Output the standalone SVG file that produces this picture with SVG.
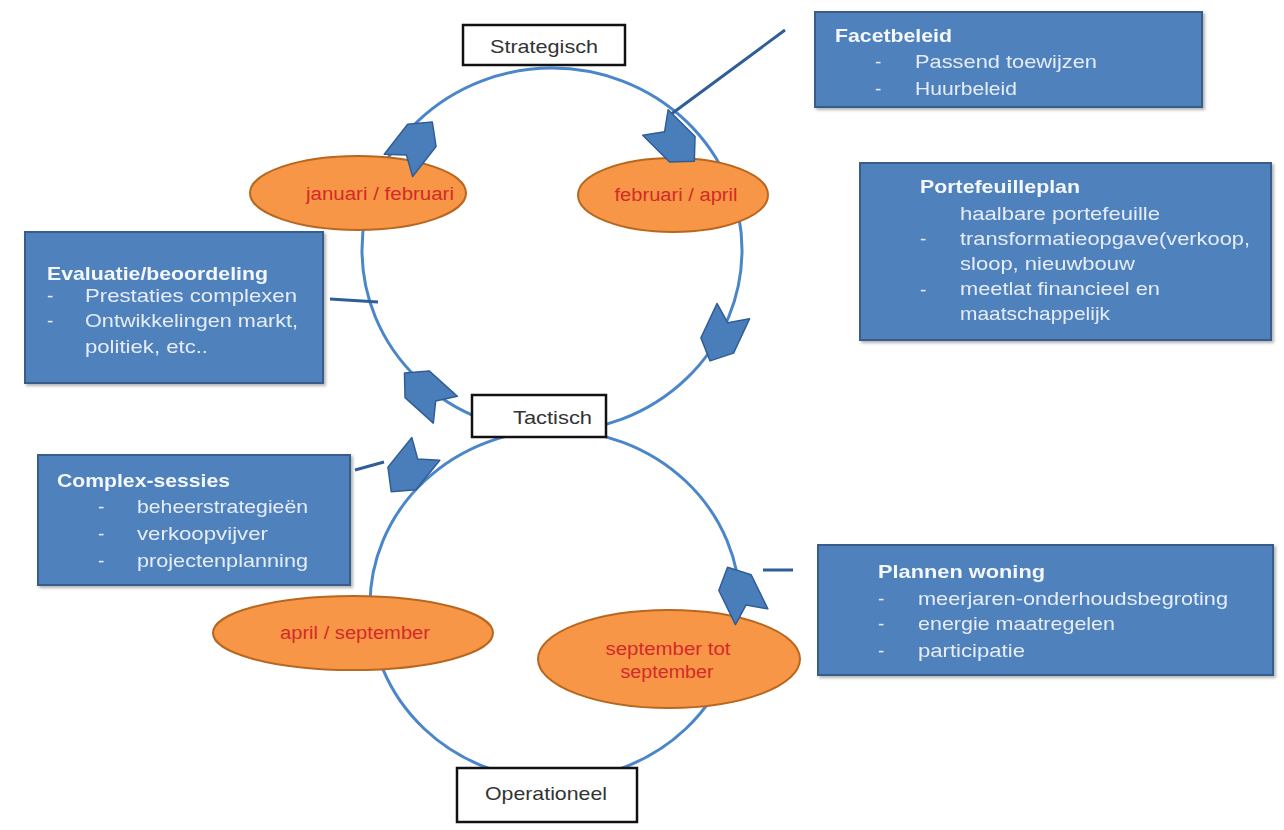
<svg xmlns="http://www.w3.org/2000/svg" width="1284" height="830" viewBox="0 0 1284 830">
<defs>
<style>
.cyc{fill:none;stroke:#4a86c8;stroke-width:3}
.ln{stroke:#2f5d97;stroke-width:3;fill:none}
.box{fill:#4f81bd;stroke:#385d8a;stroke-width:2}
.ttl{font-family:"Liberation Sans",Arial,sans-serif;font-size:19px;font-weight:bold;fill:#f4f7fc}
.itm{font-family:"Liberation Sans",Arial,sans-serif;font-size:19px;fill:#e6edf8}
.lab{fill:#ffffff;stroke:#111111;stroke-width:2.5}
.labt{font-family:"Liberation Sans",Arial,sans-serif;font-size:19px;fill:#333333}
.ell{fill:#f79646;stroke:#b8671f;stroke-width:2}
.ellt{font-family:"Liberation Sans",Arial,sans-serif;font-size:18px;fill:#d42a2a;text-anchor:middle}
.arw{fill:#4a7ebb;stroke:#2f5d97;stroke-width:1.5;stroke-linejoin:round}
</style>
<filter id="sh" x="-5%" y="-5%" width="110%" height="115%">
<feDropShadow dx="2" dy="2" stdDeviation="1.5" flood-color="#000000" flood-opacity="0.3"/>
</filter>
<path id="chev" d="M-22,-18 L16,-18 L33,0 L16,18 L-22,18 L-9,0 Z"/>
</defs>
<rect width="1284" height="830" fill="#ffffff"/>

<g id="connectors">
<ellipse class="cyc" cx="552" cy="250" rx="190" ry="182"/>
<ellipse class="cyc" cx="555" cy="605" rx="185" ry="175"/>
<line class="ln" x1="785" y1="30" x2="670" y2="115"/>
<line class="ln" x1="330" y1="299" x2="378" y2="302"/>
<line class="ln" x1="355" y1="470" x2="384" y2="462"/>
<line class="ln" x1="763" y1="570" x2="793" y2="570"/>
</g>

<g id="ell-janfeb">
<ellipse class="ell" cx="358" cy="193" rx="108" ry="37"/>
<text class="ellt" x="380" y="200" textLength="148" lengthAdjust="spacingAndGlyphs">januari / februari</text>
</g>
<g id="ell-febapr">
<ellipse class="ell" cx="673" cy="195" rx="95" ry="37"/>
<text class="ellt" x="676" y="201" textLength="123" lengthAdjust="spacingAndGlyphs">februari / april</text>
</g>
<g id="ell-aprsep">
<ellipse class="ell" cx="353" cy="633" rx="140" ry="37"/>
<text class="ellt" x="355" y="639" textLength="150" lengthAdjust="spacingAndGlyphs">april / september</text>
</g>
<g id="ell-sepsep">
<ellipse class="ell" cx="669" cy="659" rx="131" ry="49"/>
<text class="ellt" x="668" y="655" textLength="125" lengthAdjust="spacingAndGlyphs">september tot</text>
<text class="ellt" x="667" y="678" textLength="93" lengthAdjust="spacingAndGlyphs">september</text>
</g>

<g id="cycle-arrows">
<use href="#chev" class="arw" transform="translate(412,148) rotate(-52)"/>
<use href="#chev" class="arw" transform="translate(671,138) rotate(45)"/>
<use href="#chev" class="arw" transform="translate(724,331) rotate(115)"/>
<use href="#chev" class="arw" transform="translate(429,395) rotate(-138)"/>
<use href="#chev" class="arw" transform="translate(412,466) rotate(129)"/>
<use href="#chev" class="arw" transform="translate(742,597) rotate(-116)"/>
</g>

<g id="lab-strategisch">
<rect class="lab" x="463" y="25" width="162" height="40"/>
<text class="labt" x="490" y="53" textLength="108" lengthAdjust="spacingAndGlyphs">Strategisch</text>
</g>
<g id="lab-tactisch">
<rect class="lab" x="472" y="395" width="134" height="42"/>
<text class="labt" x="513" y="424" textLength="79" lengthAdjust="spacingAndGlyphs">Tactisch</text>
</g>
<g id="lab-operationeel">
<rect class="lab" x="457" y="768" width="180" height="54"/>
<text class="labt" x="485" y="800" textLength="122" lengthAdjust="spacingAndGlyphs">Operationeel</text>
</g>

<g id="box-facetbeleid" filter="url(#sh)">
<rect class="box" x="815" y="12" width="387" height="95"/>
<text class="ttl" x="835" y="42" textLength="117" lengthAdjust="spacingAndGlyphs">Facetbeleid</text>
<text class="itm" x="875" y="68">-</text>
<text class="itm" x="915" y="68" textLength="182" lengthAdjust="spacingAndGlyphs">Passend toewijzen</text>
<text class="itm" x="875" y="95">-</text>
<text class="itm" x="915" y="95" textLength="102" lengthAdjust="spacingAndGlyphs">Huurbeleid</text>
</g>

<g id="box-portefeuilleplan" filter="url(#sh)">
<rect class="box" x="860" y="163" width="411" height="177"/>
<text class="ttl" x="920" y="193" textLength="160" lengthAdjust="spacingAndGlyphs">Portefeuilleplan</text>
<text class="itm" x="960" y="220" textLength="200" lengthAdjust="spacingAndGlyphs">haalbare portefeuille</text>
<text class="itm" x="920" y="245">-</text>
<text class="itm" x="960" y="245" textLength="290" lengthAdjust="spacingAndGlyphs">transformatieopgave(verkoop,</text>
<text class="itm" x="960" y="270" textLength="175" lengthAdjust="spacingAndGlyphs">sloop, nieuwbouw</text>
<text class="itm" x="920" y="296">-</text>
<text class="itm" x="960" y="295" textLength="200" lengthAdjust="spacingAndGlyphs">meetlat financieel en</text>
<text class="itm" x="960" y="320" textLength="150" lengthAdjust="spacingAndGlyphs">maatschappelijk</text>
</g>

<g id="box-evaluatie" filter="url(#sh)">
<rect class="box" x="25" y="232" width="298" height="151"/>
<text class="ttl" x="47" y="280" textLength="221" lengthAdjust="spacingAndGlyphs">Evaluatie/beoordeling</text>
<text class="itm" x="47" y="302">-</text>
<text class="itm" x="85" y="302" textLength="212" lengthAdjust="spacingAndGlyphs">Prestaties complexen</text>
<text class="itm" x="47" y="327">-</text>
<text class="itm" x="85" y="327" textLength="213" lengthAdjust="spacingAndGlyphs">Ontwikkelingen markt,</text>
<text class="itm" x="85" y="353" textLength="123" lengthAdjust="spacingAndGlyphs">politiek, etc..</text>
</g>

<g id="box-complexsessies" filter="url(#sh)">
<rect class="box" x="38" y="455" width="312" height="130"/>
<text class="ttl" x="57" y="487" textLength="173" lengthAdjust="spacingAndGlyphs">Complex-sessies</text>
<text class="itm" x="98" y="513">-</text>
<text class="itm" x="137" y="513" textLength="171" lengthAdjust="spacingAndGlyphs">beheerstrategieën</text>
<text class="itm" x="98" y="540">-</text>
<text class="itm" x="137" y="540" textLength="131" lengthAdjust="spacingAndGlyphs">verkoopvijver</text>
<text class="itm" x="98" y="567">-</text>
<text class="itm" x="137" y="567" textLength="171" lengthAdjust="spacingAndGlyphs">projectenplanning</text>
</g>

<g id="box-plannenwoning" filter="url(#sh)">
<rect class="box" x="818" y="545" width="455" height="130"/>
<text class="ttl" x="878" y="578" textLength="167" lengthAdjust="spacingAndGlyphs">Plannen woning</text>
<text class="itm" x="878" y="605">-</text>
<text class="itm" x="918" y="605" textLength="310" lengthAdjust="spacingAndGlyphs">meerjaren-onderhoudsbegroting</text>
<text class="itm" x="878" y="630">-</text>
<text class="itm" x="918" y="630" textLength="197" lengthAdjust="spacingAndGlyphs">energie maatregelen</text>
<text class="itm" x="878" y="657">-</text>
<text class="itm" x="918" y="657" textLength="107" lengthAdjust="spacingAndGlyphs">participatie</text>
</g>
</svg>
